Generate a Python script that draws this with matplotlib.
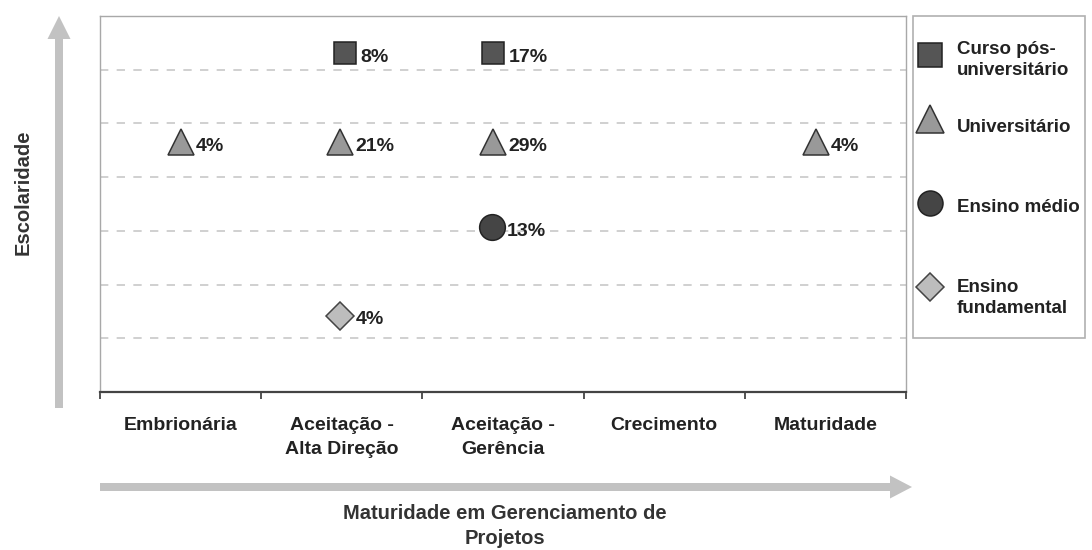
import matplotlib
matplotlib.use("Agg")
import matplotlib.pyplot as plt
from matplotlib.patches import FancyArrow, Rectangle

# ---------------- data ----------------
categories = ['Embrionária', 'Aceitação -\nAlta Direção', 'Aceitação -\nGerência',
              'Crecimento', 'Maturidade']

pos_x = [1.02, 1.94]
pos_y = [6.31, 6.31]
pos_lbl = ['8%', '17%']

uni_x = [0.0, 0.99, 1.94, 3.94]
uni_y = [4.65, 4.65, 4.65, 4.65]
uni_lbl = ['4%', '21%', '29%', '4%']

med_x = [1.93]
med_y = [3.07]
med_lbl = ['13%']

fund_x = [0.99]
fund_y = [1.42]
fund_lbl = ['4%']

series_names = ['Curso pós-\nuniversitário', 'Universitário', 'Ensino médio', 'Ensino\nfundamental']

# ---------------- style ----------------
FONT = 'Liberation Sans'
plt.rcParams['font.family'] = [FONT, 'DejaVu Sans']
W, H = 1092, 550
fig = plt.figure(figsize=(W / 100, H / 100), dpi=100)

L, R, T, B = 100, 906, 16, 392
ax = fig.add_axes([L / W, 1 - B / H, (R - L) / W, (B - T) / H])

styles = [
    dict(marker='s', ms=16.5, mfc='#555555', mec='#222222', mew=1.1),
    dict(marker='^', ms=18.5, mfc='#999999', mec='#333333', mew=1.1),
    dict(marker='o', ms=18.5, mfc='#454545', mec='#222222', mew=1.1),
    dict(marker='D', ms=14.5, mfc='#bdbdbd', mec='#444444', mew=1.1),
]
data = [(pos_x, pos_y, pos_lbl), (uni_x, uni_y, uni_lbl),
        (med_x, med_y, med_lbl), (fund_x, fund_y, fund_lbl)]

for (xs, ys, lbls), st in zip(data, styles):
    ax.plot(xs, ys, linestyle='none', zorder=3, **st)
    for x, y, t in zip(xs, ys, lbls):
        ax.annotate(t, (x, y), xytext=(11, -3), textcoords='offset points',
                    ha='left', va='center', fontsize=14, fontweight='bold',
                    color='#222222', zorder=4)

ax.set_xlim(-0.5, len(categories) - 0.5)
ax.set_ylim(0, 7)
ax.set_yticks(range(1, 7))
ax.yaxis.grid(True, linestyle=(0, (5, 5)), color='#c8c8c8', linewidth=1.2)
ax.tick_params(axis='y', length=0, labelleft=False)

ax.set_xticks([i - 0.5 for i in range(len(categories) + 1)])
ax.set_xticklabels([])
ax.set_xticks(range(len(categories)), minor=True)
ax.set_xticklabels(categories, minor=True, fontsize=14, fontweight='bold',
                   color='#222222', linespacing=1.5)
ax.tick_params(axis='x', which='major', direction='out', length=5,
               width=1.3, color='#444444')
ax.tick_params(axis='x', which='minor', length=0, pad=18)

for s in ['top', 'left', 'right']:
    ax.spines[s].set_color('#a8a8a8')
    ax.spines[s].set_linewidth(1.0)
ax.spines['bottom'].set_color('#444444')
ax.spines['bottom'].set_linewidth(1.6)
ax.set_axisbelow(True)

# ---------------- overlay (arrows, titles) ----------------
ov = fig.add_axes([0, 0, 1, 1], zorder=-1)
ov.set_xlim(0, W)
ov.set_ylim(H, 0)
ov.axis('off')
ov.patch.set_alpha(0)

arrow_col = '#c2c2c2'
ov.add_patch(FancyArrow(59, 408, 0, 16 - 408, width=8, head_width=23,
                        head_length=23, length_includes_head=True,
                        color=arrow_col, lw=0))
ov.add_patch(FancyArrow(100, 487, 912 - 100, 0, width=8, head_width=23,
                        head_length=22, length_includes_head=True,
                        color=arrow_col, lw=0))

ov.text(23, 192, 'Escolaridade', rotation=90, ha='center', va='center',
        fontsize=14.5, fontweight='bold', color='#333333')
ov.text(505, 526, 'Maturidade em Gerenciamento de\nProjetos', ha='center',
        va='center', fontsize=14.5, fontweight='bold', color='#333333',
        linespacing=1.4)

# ---------------- legend ----------------
lg = fig.add_axes([0, 0, 1, 1], zorder=2)
lg.set_xlim(0, W)
lg.set_ylim(H, 0)
lg.axis('off')
lg.patch.set_alpha(0)
lg.add_patch(Rectangle((913, 16), 1085 - 913, 338 - 16, fill=False,
                       edgecolor='#b0b0b0', lw=1.2))
leg_marker_y = [55, 119, 203, 287]
leg_text_y = [60, 127, 208, 298]
leg_styles = [
    dict(marker='s', ms=17, mfc='#555555', mec='#222222', mew=1.1),
    dict(marker='^', ms=19.5, mfc='#999999', mec='#333333', mew=1.1),
    dict(marker='o', ms=18, mfc='#454545', mec='#222222', mew=1.1),
    dict(marker='D', ms=14, mfc='#bdbdbd', mec='#444444', mew=1.1),
]
for name, my, ty, st in zip(series_names, leg_marker_y, leg_text_y, leg_styles):
    lg.plot([930], [my], linestyle='none', **st)
    lg.text(957, ty, name, ha='left', va='center', fontsize=13.5,
            fontweight='bold', color='#222222', linespacing=1.3)

fig.savefig('out.png', dpi=100)
